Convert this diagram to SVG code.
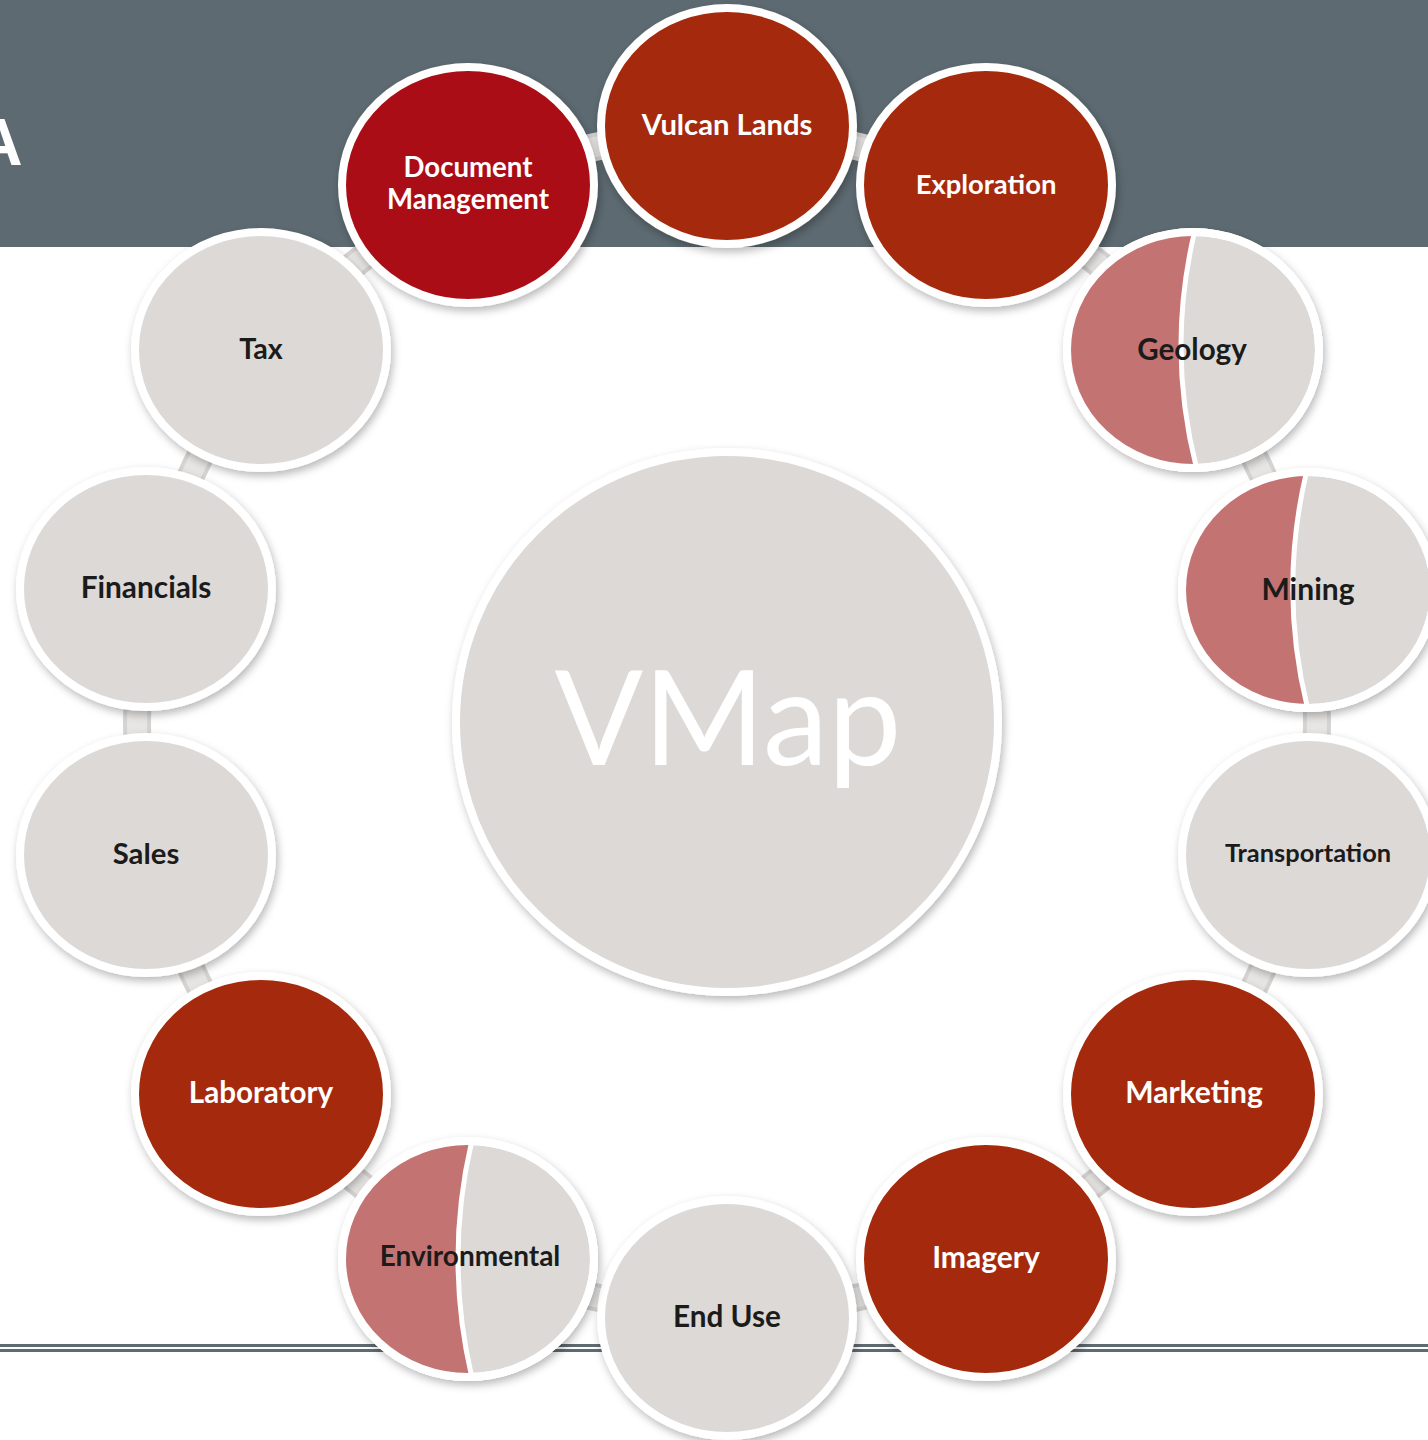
<svg xmlns="http://www.w3.org/2000/svg" width="1428" height="1440" viewBox="0 0 1428 1440">
<defs>
<style>
.bg{fill:#5d6a71}
.node{stroke:#ffffff;stroke-width:8}
.red{fill:#a52a08}
.crim{fill:#ab1016}
.gray{fill:#dcd9d6}
.pink{fill:#c47373}
.div{fill:none;stroke:#ffffff;stroke-width:5}
.lbl{font-family:"Lato","Open Sans","Liberation Sans",sans-serif;font-weight:700;text-anchor:middle}
.dk{fill:#1b1b1b}
.wt{fill:#ffffff}
.ring{fill:none}
</style>
<filter id="sh" x="-20%" y="-20%" width="140%" height="140%">
<feDropShadow dx="2" dy="4" stdDeviation="4" flood-color="#000000" flood-opacity="0.28"/>
</filter>
<clipPath id="cGeo"><ellipse cx="1193" cy="350" rx="126" ry="118"/></clipPath>
<clipPath id="cMin"><ellipse cx="1308" cy="590" rx="126" ry="118"/></clipPath>
<clipPath id="cEnv"><ellipse cx="468" cy="1259" rx="126" ry="118"/></clipPath>
</defs>

<rect x="0" y="0" width="1428" height="1440" fill="#ffffff"/>
<rect class="bg" x="0" y="0" width="1428" height="247"/>
<text x="-25" y="165" font-family="Liberation Sans, Arial, sans-serif" font-weight="700" font-size="66" fill="#ffffff">A</text>
<rect x="0" y="1344" width="1428" height="3" fill="#5f6b72"/>
<rect x="0" y="1349" width="1428" height="3" fill="#5f6b72"/>

<g id="connectors">
<circle class="ring" cx="727" cy="722" r="590" stroke="#d6d4d2" stroke-width="28"/>
<circle class="ring" cx="727" cy="722" r="590" stroke="#e8e6e4" stroke-width="20"/>
</g>

<g id="center">
<ellipse cx="727" cy="722" rx="271" ry="270" class="gray node" filter="url(#sh)"/>
<text x="728" y="765" font-family="Lato, 'Open Sans', sans-serif" font-size="131" text-anchor="middle" fill="#ffffff">VMap</text>
</g>

<g id="vulcan-lands">
<ellipse cx="727" cy="126" rx="126" ry="118" class="red node" filter="url(#sh)"/>
<text x="727" y="135" class="lbl wt" style="font-size:29.2px">Vulcan Lands</text>
</g>
<g id="exploration">
<ellipse cx="986" cy="185" rx="126" ry="118" class="red node" filter="url(#sh)"/>
<text x="986" y="194" class="lbl wt" style="font-size:27.4px">Exploration</text>
</g>
<g id="geology">
<ellipse cx="1193" cy="350" rx="126" ry="118" class="gray node" filter="url(#sh)"/>
<path class="pink" clip-path="url(#cGeo)" d="M1195,230 Q1166,350 1197,470 L1050,470 L1050,230 Z"/>
<path class="div" clip-path="url(#cGeo)" d="M1195,230 Q1166,350 1197,470"/>
<ellipse cx="1193" cy="350" rx="126" ry="118" fill="none" stroke="#ffffff" stroke-width="8"/>
<text x="1192" y="360" class="lbl dk" style="font-size:29.6px">Geology</text>
</g>
<g id="mining">
<ellipse cx="1308" cy="590" rx="126" ry="118" class="gray node" filter="url(#sh)"/>
<path class="pink" clip-path="url(#cMin)" d="M1307,470 Q1278,590 1308,710 L1170,710 L1170,470 Z"/>
<path class="div" clip-path="url(#cMin)" d="M1307,470 Q1278,590 1308,710"/>
<ellipse cx="1308" cy="590" rx="126" ry="118" fill="none" stroke="#ffffff" stroke-width="8"/>
<text x="1308" y="600" class="lbl dk" style="font-size:30px">Mining</text>
</g>
<g id="transportation">
<ellipse cx="1308" cy="855" rx="126" ry="118" class="gray node" filter="url(#sh)"/>
<text x="1308" y="862" class="lbl dk" style="font-size:25.4px">Transportation</text>
</g>
<g id="marketing">
<ellipse cx="1193" cy="1094" rx="126" ry="118" class="red node" filter="url(#sh)"/>
<text x="1194" y="1103" class="lbl wt" style="font-size:30px">Marketing</text>
</g>
<g id="imagery">
<ellipse cx="986" cy="1259" rx="126" ry="118" class="red node" filter="url(#sh)"/>
<text x="986" y="1268" class="lbl wt" style="font-size:30px">Imagery</text>
</g>
<g id="end-use">
<ellipse cx="727" cy="1318" rx="126" ry="118" class="gray node" filter="url(#sh)"/>
<text x="727" y="1327" class="lbl dk" style="font-size:29.7px">End Use</text>
</g>
<g id="environmental">
<ellipse cx="468" cy="1259" rx="126" ry="118" class="gray node" filter="url(#sh)"/>
<path class="pink" clip-path="url(#cEnv)" d="M472,1140 Q444,1259 472,1378 L330,1378 L330,1140 Z"/>
<path class="div" clip-path="url(#cEnv)" d="M472,1140 Q444,1259 472,1378"/>
<ellipse cx="468" cy="1259" rx="126" ry="118" fill="none" stroke="#ffffff" stroke-width="8"/>
<text x="470" y="1266" class="lbl dk" style="font-size:28px">Environmental</text>
</g>
<g id="laboratory">
<ellipse cx="261" cy="1094" rx="126" ry="118" class="red node" filter="url(#sh)"/>
<text x="261" y="1103" class="lbl wt" style="font-size:29.6px">Laboratory</text>
</g>
<g id="sales">
<ellipse cx="146" cy="855" rx="126" ry="118" class="gray node" filter="url(#sh)"/>
<text x="146" y="864" class="lbl dk" style="font-size:29.3px">Sales</text>
</g>
<g id="financials">
<ellipse cx="146" cy="589" rx="126" ry="118" class="gray node" filter="url(#sh)"/>
<text x="146" y="598" class="lbl dk" style="font-size:29.8px">Financials</text>
</g>
<g id="tax">
<ellipse cx="261" cy="350" rx="126" ry="118" class="gray node" filter="url(#sh)"/>
<text x="261" y="359" class="lbl dk" style="font-size:28.7px">Tax</text>
</g>
<g id="document-management">
<ellipse cx="468" cy="185" rx="126" ry="118" class="crim node" filter="url(#sh)"/>
<text x="468" y="177" class="lbl wt" style="font-size:27.6px">Document</text>
<text x="468" y="209" class="lbl wt" style="font-size:27.6px">Management</text>
</g>
</svg>
